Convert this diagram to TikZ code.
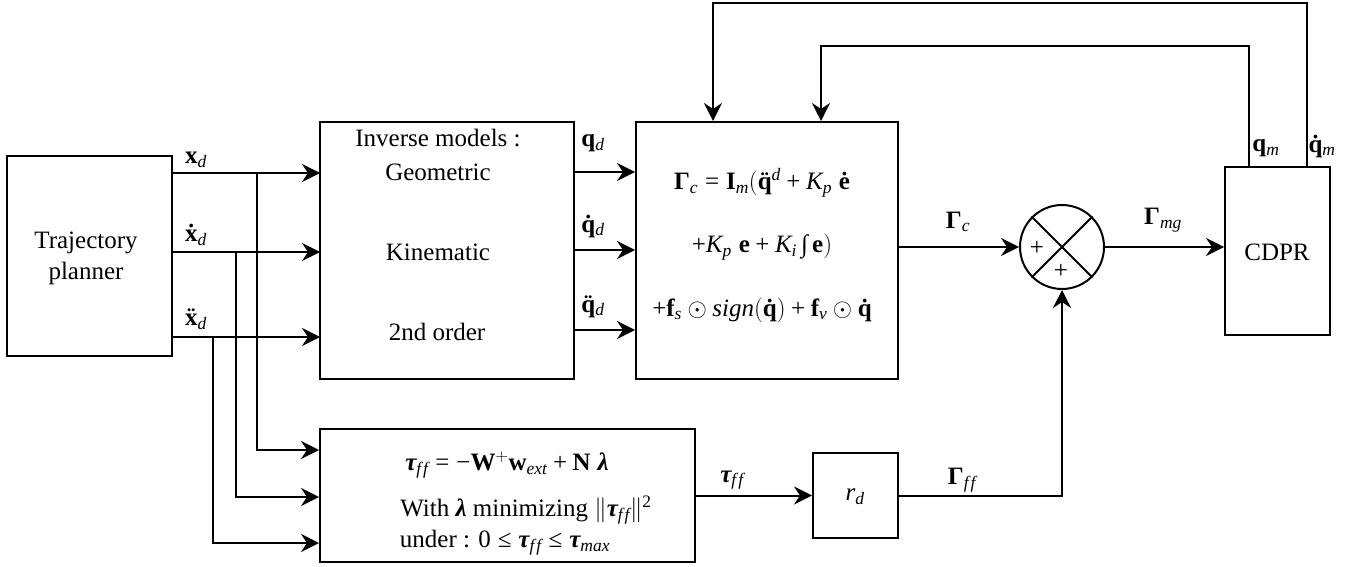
\documentclass[tikz,border=0pt]{standalone}
\usepackage{fontspec}
\setmainfont{Liberation Serif}
\usetikzlibrary{arrows.meta,calc}
\newcommand\gtau{\mbox{\bfseries\itshape τ}}
\newcommand\glam{\mbox{\bfseries\itshape λ}}
\newcommand\gGam{\mbox{\bfseries Γ}}
\newcommand\vi[1]{\mathit{#1}}
\newcommand\ff{\mathit{f}\mkern2mu\mathit{f}}
\newcommand\od[1]{\mbox{\ooalign{\textbf{#1}\cr\hidewidth\textbf{˙}\hidewidth\cr}}}
\newcommand\odd[1]{\mbox{\ooalign{\textbf{#1}\cr\hidewidth\textbf{¨}\hidewidth\cr}}}
\newcommand\pl{\mathbin{\mbox{+}}}
\newcommand\mn{\mathbin{\mbox{−}}}
\newcommand\eq{\mathrel{\mbox{=}}}
\newcommand\lee{\mathrel{\mbox{≤}}}
\newcommand\odt{\odot}
\begin{document}
\begin{tikzpicture}[x=1pt,y=-1pt,
  every node/.style={font=\fontsize{25}{31}\selectfont, inner sep=0pt},
  blk/.style={draw, line width=2pt, rectangle, anchor=center},
  wire/.style={line width=2pt},
  arr/.style={wire, -{Stealth[length=18pt,width=18pt,inset=6pt]}},
  lbl/.style={anchor=center}
]
\useasboundingbox (0,0) rectangle (1356,567);
% blocks
\node[blk, minimum width=165pt, minimum height=200pt, align=center] (tp) at (89.5,256) {};
\node[align=center] (tptext) at (86,258) {Trajectory\\planner};
\node[blk, minimum width=254pt, minimum height=257pt] (inv) at (447,250.5) {};
\node[lbl] (inv1) at (438,138) {Inverse models :};
\node[lbl] (inv2) at (438,172) {Geometric};
\node[lbl] (inv3) at (438,252) {Kinematic};
\node[lbl] (inv4) at (437,332) {2nd order};
\node[blk, minimum width=262pt, minimum height=257pt] (ctrl) at (767,250.5) {};
\node[lbl] (c1) at (762,183) {$\gGam_{\vi{c}} \eq \mathbf{I}_{\vi{m}}(\odd{q}^{\vi{d}} \pl \vi{K}_{\vi{p}}\;\od{e}$};
\node[lbl] (c2) at (762,247) {$\pl\vi{K}_{\vi{p}}\;\mathbf{e} \pl \vi{K}_{\vi{i}}\,\mbox{∫}\,\mathbf{e})$};
\node[lbl] (c3) at (762,310) {$\pl\mathbf{f}_{\vi{s}}\odt \vi{sign}(\od{q}) \pl \mathbf{f}_{\vi{v}}\odt\od{q}$};
\node[draw, line width=2pt, circle, minimum size=84pt] (sum) at (1062,247) {};
\draw[wire] (sum.north west) -- (sum.south east);
\draw[wire] (sum.north east) -- (sum.south west);
\node[lbl] (p1) at (1037,248) {+};
\node[lbl] (p2) at (1061,271) {+};
\node[blk, minimum width=105pt, minimum height=168pt] (cdpr) at (1277.5,251) {};
\node[lbl] (cdprt) at (1277,252) {CDPR};
\node[blk, minimum width=375pt, minimum height=133pt] (ff) at (507.5,495.5) {};
\node[lbl] (f1) at (507,465) {$\gtau_{\ff} \eq \mn\mathbf{W}^{\mathrm{+}}\mathbf{w}_{\vi{ext}} \pl \mathbf{N}\;\glam$};
\node[lbl] (f2) at (526,510) {With \glam{} minimizing $\|\gtau_{\ff}\|^{\mathrm{2}}$};
\node[lbl] (f3) at (505,543) {under : $\mathrm{0}\lee\gtau_{\ff}\lee\gtau_{\vi{max}}$};
\node[blk, minimum width=85pt, minimum height=85pt] (rd) at (855.5,495.5) {};
\node[lbl] (rdt) at (855,497) {$\vi{r}_{\vi{d}}$};
% taps
\coordinate (a1) at (172,173); \coordinate (b1) at (320,173);
\coordinate (a2) at (172,252); \coordinate (b2) at (320,252);
\coordinate (a3) at (172,337); \coordinate (b3) at (320,337);
\draw[arr] (a1) -- (b1);
\draw[arr] (a2) -- (b2);
\draw[arr] (a3) -- (b3);
\coordinate (t1) at (257,173); \coordinate (t2) at (236,252); \coordinate (t3) at (213,337);
\draw[arr] (t1) |- (ff.west |- {(0,450)});
\draw[arr] (t2) |- (ff.west |- {(0,497)});
\draw[arr] (t3) |- (ff.west |- {(0,543)});
\node[lbl] (lx1) at (196,160) {$\mathbf{x}_{\vi{d}}$};
\node[lbl] (lx2) at (196,238) {$\od{x}_{\vi{d}}$};
\node[lbl] (lx3) at (196,322) {$\odd{x}_{\vi{d}}$};
% inverse outputs
\draw[arr] (inv.east |- {(0,172)}) -- (ctrl.west |- {(0,172)});
\draw[arr] (inv.east |- {(0,250)}) -- (ctrl.west |- {(0,250)});
\draw[arr] (inv.east |- {(0,330)}) -- (ctrl.west |- {(0,330)});
\node[lbl] (lq1) at (593,143) {$\mathbf{q}_{\vi{d}}$};
\node[lbl] (lq2) at (593,228) {$\od{q}_{\vi{d}}$};
\node[lbl] (lq3) at (593,308) {$\odd{q}_{\vi{d}}$};
% control to sum to CDPR
\draw[arr] (ctrl.east |- sum.west) -- (sum.west);
\node[lbl] (lgc) at (958,222) {$\gGam_{\vi{c}}$};
\draw[arr] (sum.east) -- (sum.east -| cdpr.west);
\node[lbl] (lgm) at (1163,220) {$\gGam_{\vi{mg}}$};
% feedback
\coordinate (fq) at (1249,167);
\coordinate (fqd) at (1307,167);
\draw[arr] (fq) -- (1249,46) -- (821,46) -- (ctrl.north -| {(821,0)});
\draw[arr] (fqd) -- (1307,3) -- (713,3) -- (ctrl.north -| {(713,0)});
\node[lbl] (lqm) at (1266,148) {$\mathbf{q}_{\vi{m}}$};
\node[lbl] (lqdm) at (1322,148) {$\od{q}_{\vi{m}}$};
% feedforward path
\draw[arr] (ff.east |- rd.west) -- (rd.west);
\node[lbl] (ltau) at (732,480) {$\gtau_{\ff}$};
\draw[arr] (rd.east) -| (sum.south);
\node[lbl] (lgff) at (962,480) {$\gGam_{\ff}$};
\end{tikzpicture}
\end{document}
